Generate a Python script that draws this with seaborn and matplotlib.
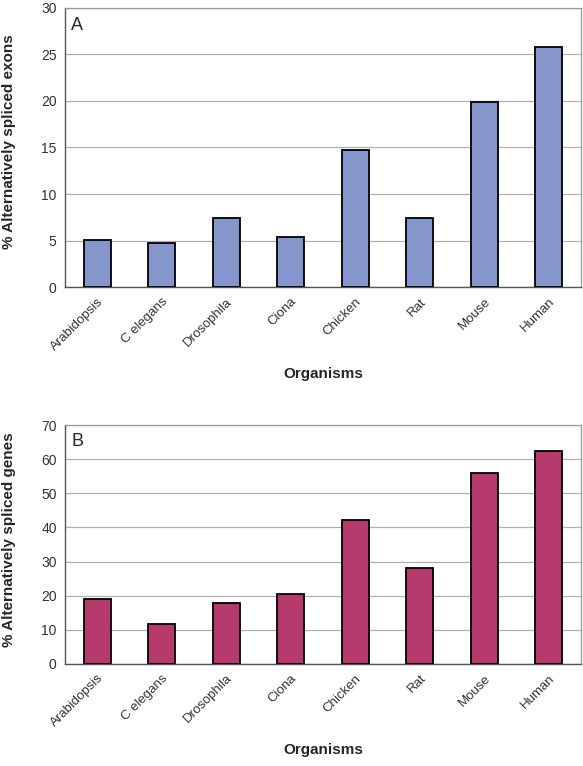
import matplotlib
matplotlib.use("Agg")
import matplotlib.pyplot as plt
import matplotlib.transforms as mtransforms
import numpy as np
import pandas as pd
import seaborn as sns

organisms = ["Arabidopsis", "C elegans", "Drosophila", "Ciona", "Chicken", "Rat", "Mouse", "Human"]
exons_pct = [5.1, 4.7, 7.4, 5.4, 14.7, 7.4, 19.9, 25.8]
genes_pct = [19.1, 11.8, 17.8, 20.5, 42.2, 28.1, 56.0, 62.3]

sns.set_style("white")
plt.rcParams["font.family"] = ["Liberation Sans", "DejaVu Sans"]

fig = plt.figure(figsize=(5.83, 7.66), dpi=100)
ax_a = fig.add_axes([0.1115, 0.625, 0.885, 0.365])
ax_b = fig.add_axes([0.1115, 0.1332, 0.885, 0.3118])

panels = [
    (ax_a, exons_pct, "#8496CC", "% Alternatively spliced exons", 30, 5, "A"),
    (ax_b, genes_pct, "#B5396B", "% Alternatively spliced genes", 70, 10, "B"),
]

shift = mtransforms.ScaledTranslation(-10 / 100, -5 / 100, fig.dpi_scale_trans)

for ax, vals, color, ylab, ymax, ystep, letter in panels:
    df = pd.DataFrame({"organism": organisms, "value": vals})
    sns.barplot(data=df, x="organism", y="value", color=color, saturation=1,
                width=0.42, edgecolor="black", linewidth=1.3, ax=ax, zorder=3)
    ax.set_xlim(-0.5, len(organisms) - 0.5)
    ax.set_ylim(0, ymax)
    ax.set_yticks(np.arange(0, ymax + 1, ystep))
    ax.yaxis.grid(True, color="#b0b0b0", linewidth=0.9, zorder=0)
    ax.set_axisbelow(True)

    # category labels at the centres, tick marks at the boundaries
    ax.set_xticks(range(len(organisms)))
    ax.set_xticklabels(organisms, rotation=45, ha="right", rotation_mode="anchor",
                       fontsize=9.5, color="#333333")
    for lbl in ax.get_xticklabels():
        lbl.set_transform(lbl.get_transform() + shift)
    ax.tick_params(axis="x", which="major", length=0, pad=6)
    ax.set_xticks(np.arange(-0.5, len(organisms)), minor=True)
    ax.tick_params(axis="x", which="minor", length=4, color="#555555", direction="out")
    ax.tick_params(axis="y", length=4, color="#555555", direction="out",
                   labelsize=10, labelcolor="#333333", pad=2)

    for side in ["top", "right"]:
        ax.spines[side].set_color("#9a9a9a")
        ax.spines[side].set_linewidth(0.9)
    for side in ["left", "bottom"]:
        ax.spines[side].set_color("#555555")
        ax.spines[side].set_linewidth(1.0)

    ax.set_ylabel(ylab, fontsize=11, fontweight="bold")
    ax.yaxis.set_label_coords(-0.095, 0.52)
    ax.set_xlabel("Organisms", fontsize=11, fontweight="bold", labelpad=10)
    ax.text(0.012, 0.965, letter, transform=ax.transAxes, fontsize=13,
            ha="left", va="top")

fig.savefig("out.png", dpi=100)
